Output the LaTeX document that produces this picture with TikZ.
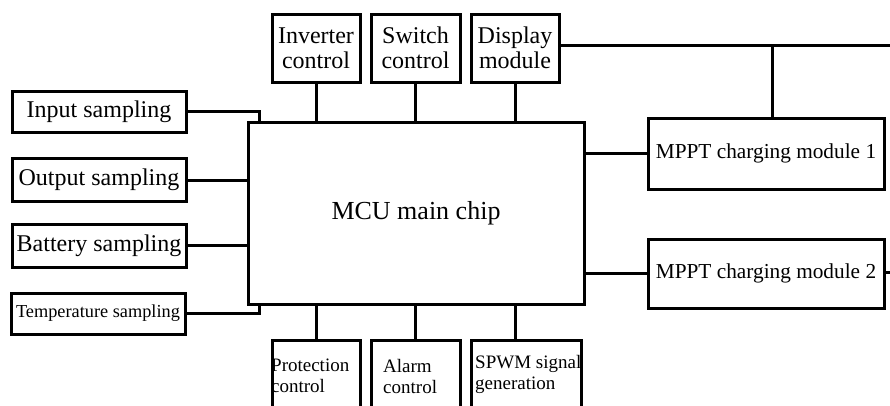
\documentclass[tikz,border=0pt]{standalone}
\usepackage{fontspec}
\setmainfont{Liberation Serif}
\begin{document}
\begin{tikzpicture}[x=1pt,y=-1pt,
  box/.style={draw, line width=3pt, inner sep=0pt, rectangle},
  conn/.style={line width=3pt},
  big/.style={font=\fontsize{24}{25}\selectfont},
  mid/.style={font=\fontsize{21.3}{23}\selectfont},
  small/.style={font=\fontsize{19}{21}\selectfont, align=left, inner sep=0pt}
]
\useasboundingbox (0,0) rectangle (890,405);
\clip (0,0) rectangle (890,405);
% left boxes
\node[box, big, minimum width=174, minimum height=41] (inp) at (99,111.5) {Input sampling};
\node[box, big, minimum width=174, minimum height=43] (out) at (99,180) {Output sampling};
\node[box, big, minimum width=174, minimum height=43] (bat) at (99,245.5) {Battery sampling};
\node[box, font=\fontsize{18.3}{19}\selectfont, minimum width=174, minimum height=41] (tmp) at (98,313.5) {Temperature sampling};
% main chip
\node[box, font=\fontsize{26}{27}\selectfont, minimum width=336, minimum height=182] (mcu) at (416,213) {MCU main chip};
% top boxes
\node[box, big, align=center, minimum width=88, minimum height=68] (inv) at (316,48) {Inverter\\control};
\node[box, big, align=center, minimum width=89, minimum height=68] (sw) at (415.5,48) {Switch\\ control};
\node[box, big, align=center, minimum width=88, minimum height=68] (disp) at (515,48) {Display\\module};
% right boxes
\node[box, mid, minimum width=236, minimum height=71] (m1) at (766,153.5) {MPPT charging module 1};
\node[box, mid, minimum width=236, minimum height=69] (m2) at (766,273.5) {MPPT charging module 2};
% bottom boxes (cut by the page edge)
\node[box, minimum width=88, minimum height=79] (prot) at (316,379.5) {};
\node[box, minimum width=89, minimum height=79] (alarm) at (415.5,379.5) {};
\node[box, minimum width=110, minimum height=79] (spwm) at (526,379.5) {};
\node[small, anchor=west] (protT) at (271,376) {Protection\\control};
\node[small, anchor=west] (alarmT) at (383,376) {Alarm\\ control};
\node[small, anchor=west] (spwmT) at (475,374) {SPWM signal\\generation};
% coordinates
\coordinate (topend) at (890,45);
\coordinate (j1) at (772,45);
\coordinate (rend) at (890,272);
\coordinate (ia) at (259,0);
% left connectors
\draw[conn] (inp.east) -| (ia |- mcu.north);
\draw[conn] (out.east) -- (out.east -| mcu.west);
\draw[conn] (bat.east) -- (bat.east -| mcu.west);
\draw[conn] (tmp.east) -| (ia |- mcu.south);
% top connectors
\draw[conn] (inv.south) -- (inv.south |- mcu.north);
\draw[conn] (sw.south) -- (sw.south |- mcu.north);
\draw[conn] (disp.south) -- (disp.south |- mcu.north);
\draw[conn] (disp.east |- topend) -- (topend);
\draw[conn] (j1) -- (j1 |- m1.north);
% right connectors
\draw[conn] (m1.west) -- (m1.west -| mcu.east);
\draw[conn] (m2.west) -- (m2.west -| mcu.east);
\draw[conn] (m2.east |- rend) -- (rend);
% bottom connectors
\draw[conn] (prot.north) -- (prot.north |- mcu.south);
\draw[conn] (alarm.north) -- (alarm.north |- mcu.south);
\draw[conn] (disp.south |- spwm.north) -- (disp.south |- mcu.south);
\end{tikzpicture}
\end{document}
